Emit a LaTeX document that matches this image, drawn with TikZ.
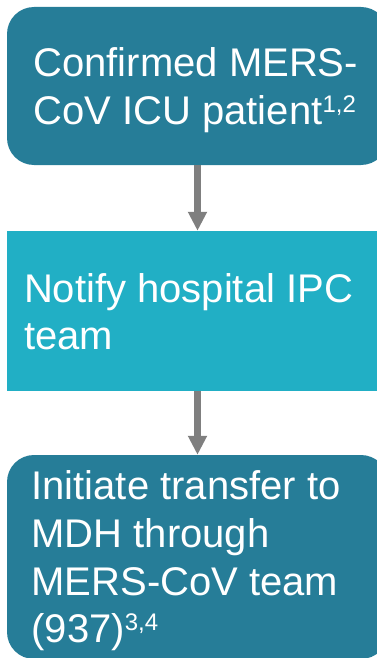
\documentclass[tikz,border=0pt]{standalone}
\usepackage{fontspec}
\setmainfont{Liberation Sans}
\usetikzlibrary{arrows.meta,calc}
\definecolor{darkteal}{HTML}{267D98}
\definecolor{lightteal}{HTML}{21AFC5}
\definecolor{arrowgray}{HTML}{7F7F7F}
\newcommand{\supnum}[1]{\raisebox{12pt}{\fontsize{24}{24}\selectfont #1}}
\begin{document}
\begin{tikzpicture}[x=1pt,y=1pt,
  darkbox/.style={fill=darkteal, rounded corners=27pt, minimum width=381pt, inner sep=0pt},
  lightbox/.style={fill=lightteal, minimum width=381pt, inner sep=0pt},
  lbl/.style={text=white, font=\fontsize{40}{47.8}\selectfont, align=left, inner sep=0pt, anchor=base west},
  flow/.style={draw=arrowgray, line width=6.5pt, -{Triangle[width=18pt,length=19pt]}}]
\useasboundingbox (0,0) rectangle (377,-658);
\clip (0,0) rectangle (377,-658);
\node[darkbox, minimum height=158pt] (b1) at (197.5,-86) {};
\node[lightbox, minimum height=160pt] (b2) at (197.5,-311) {};
\node[darkbox, minimum height=204pt] (b3) at (197.5,-557) {};
\draw[flow] (b1.south) -- (b2.north);
\draw[flow] (b2.south) -- (b3.north);
\node[lbl] (t1) at ($(b1.north west)+(26.5,-117.5)$) {Confirmed MERS-\\CoV ICU patient\supnum{1,2}};
\node[lbl] (t2) at ($(b2.north west)+(17,-119)$) {Notify hospital IPC\\team};
\node[lbl] (t3) at ($(b3.north west)+(24.5,-188)$) {Initiate transfer to\\MDH through\\MERS-CoV team\\(937)\supnum{3,4}};
\end{tikzpicture}
\end{document}
